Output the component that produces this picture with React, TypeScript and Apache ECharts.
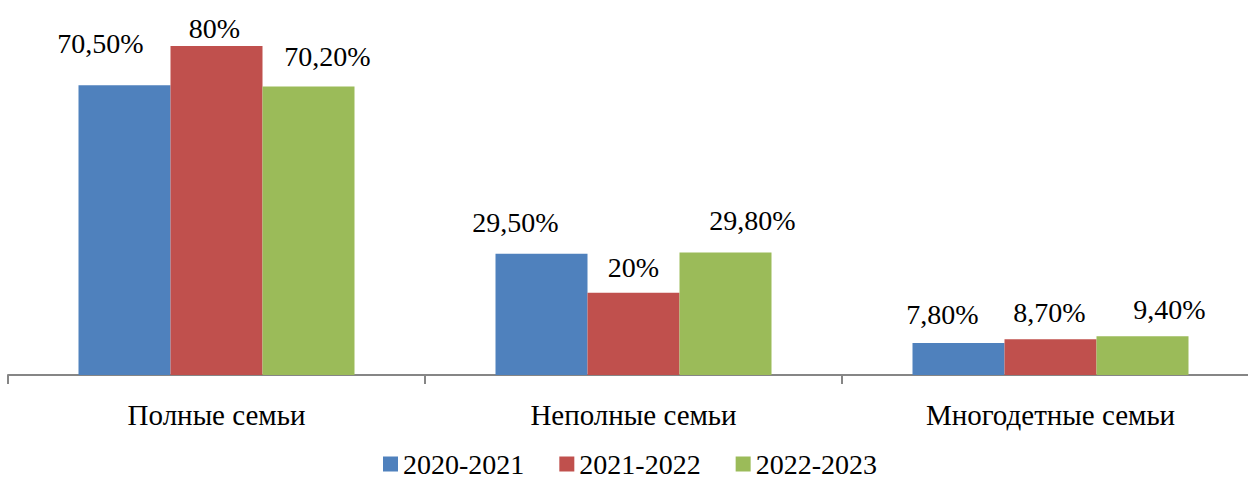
import React, { useEffect, useRef } from "react";
import * as echarts from "echarts";

const categories = ["Полные семьи", "Неполные семьи", "Многодетные семьи"];
const seriesNames = ["2020-2021", "2021-2022", "2022-2023"];
const values2020 = [70.5, 29.5, 7.8];
const values2021 = [80, 20, 8.7];
const values2022 = [70.2, 29.8, 9.4];
const labels2020 = ["70,50%", "29,50%", "7,80%"];
const labels2021 = ["80%", "20%", "8,70%"];
const labels2022 = ["70,20%", "29,80%", "9,40%"];

const colors = ["#4F81BD", "#C0504D", "#9BBB59"];
const offsets = [
  [[-24, -23], [-26, -12], [-16, -9]],
  [[-2, 1], [0, -6], [-1, -8]],
  [[19, -11], [27, -13], [27, -8]],
];

const FONT = "Liberation Serif";

export default function App() {
  const ref = useRef<HTMLDivElement>(null);
  useEffect(() => {
    document.body.style.margin = "0";
    const chart = echarts.init(ref.current!, null, { renderer: "svg" });
    const all = [values2020, values2021, values2022];
    const labs = [labels2020, labels2021, labels2022];
    chart.setOption({
      animation: false,
      textStyle: { fontFamily: FONT },
      grid: { left: 8, top: 5, width: 1251, height: 370 },
      legend: {
        left: 383,
        top: 450,
        padding: 0,
        itemWidth: 15,
        itemHeight: 15,
        itemGap: 35,
        icon: "rect",
        textStyle: { fontFamily: FONT, fontSize: 28, color: "#000" },
        data: seriesNames,
      },
      xAxis: {
        type: "category",
        data: categories,
        axisLine: { lineStyle: { color: "#868686", width: 2 } },
        axisTick: { show: true, length: 9, lineStyle: { color: "#868686", width: 2 } },
        axisLabel: { fontFamily: FONT, fontSize: 29, color: "#000", margin: 25 },
      },
      yAxis: {
        type: "value",
        min: 0,
        max: 90,
        show: false,
        splitLine: { show: false },
      },
      series: seriesNames.map((name, si) => ({
        name,
        type: "bar",
        barWidth: 92,
        barGap: "0%",
        itemStyle: { color: colors[si] },
        data: all[si].map((v, i) => ({
          value: v,
          label: {
            show: true,
            position: "top",
            offset: offsets[si][i],
            formatter: labs[si][i],
            fontFamily: FONT,
            fontSize: 28,
            color: "#000",
          },
        })),
      })),
    });
    return () => chart.dispose();
  }, []);
  return (
    <div style={{ width: 1248, height: 480, overflow: "hidden" }}>
      <div ref={ref} style={{ width: 1264, height: 480 }} />
    </div>
  );
}
